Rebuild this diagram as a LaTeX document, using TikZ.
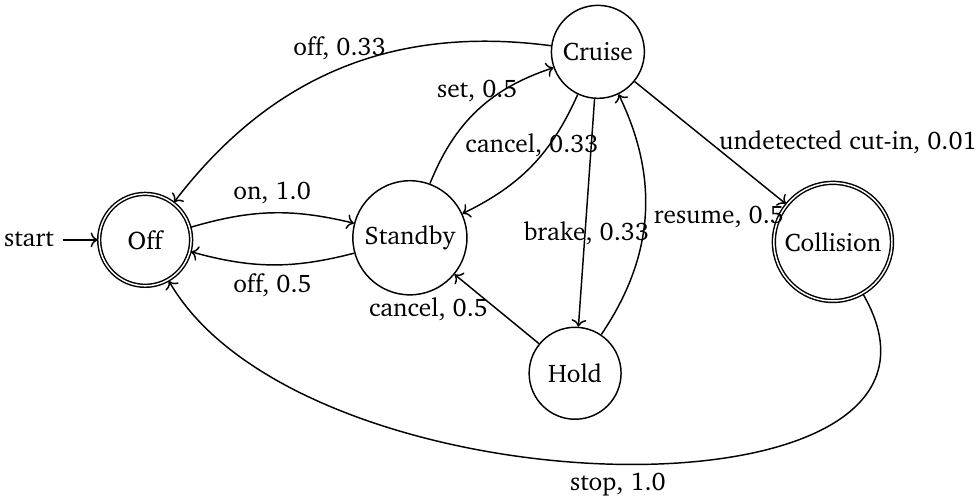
\documentclass[tikz,border=0pt]{standalone}
\usepackage[T1]{fontenc}
\usepackage{charter}
\usetikzlibrary{arrows.meta, automata}

\begin{document}
\begin{tikzpicture}[>=To, semithick, font=\fontsize{10.45}{12.5}\selectfont,
    every state/.style={draw, minimum size=1.33cm, inner sep=3.4pt}]
  \useasboundingbox (0,0) rectangle (14.12,-7.22);

  % States
  \node[state, initial, accepting] (off) at (2.10,-3.47) {Off};
  \node[state] (standby) at (5.93,-3.44) {Standby};
  \node[state] (cruise) at (8.65,-0.75) {Cruise};
  \node[state] (hold) at (8.32,-5.40) {Hold};
  \node[state, accepting] (collision) at (12.05,-3.50) {Collision};

  % Transitions
  \draw[->] (off) to[bend left=15] node[above] {on, 1.0} (standby);
  \draw[->] (standby) to[bend left=15] node[below] {off, 0.5} (off);
  \draw[->] (standby) to[bend left=25] node[above] {set, 0.5} (cruise);
  \draw[->] (cruise) to[bend left=20] node[above] {cancel, 0.33} (standby);
  \draw[->] (cruise) to[bend right=30] node[above] {off, 0.33} (off);
  \draw[->] (cruise) -- node[below] {brake, 0.33} (hold);
  \draw[->] (cruise) -- node[right] {undetected cut-in, 0.01} (collision);
  \draw[->] (hold) to[bend right=30] node[right] {resume, 0.5} (cruise);
  \draw[->] (hold) -- node[left] {cancel, 0.5} (standby);
  \draw[->] (collision) to[out=-60, in=-60] node[below] {stop, 1.0} (off);
\end{tikzpicture}
\end{document}
